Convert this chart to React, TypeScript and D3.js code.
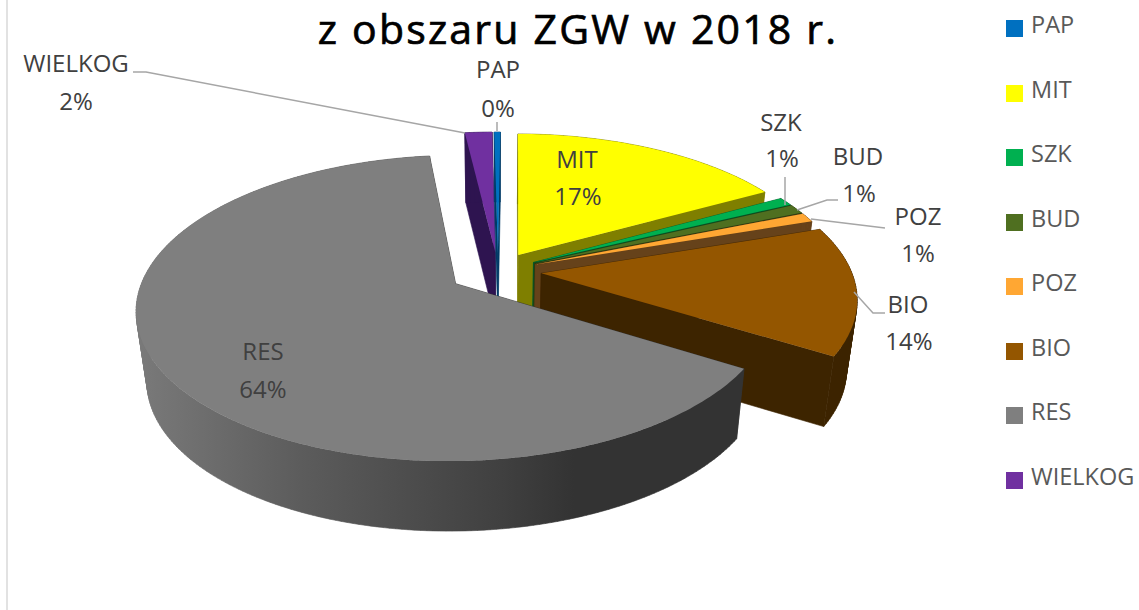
import React from "react";
import * as d3 from "d3";

const categories = ["PAP", "MIT", "SZK", "BUD", "POZ", "BIO", "RES", "WIELKOG"];
const shares = [0.37, 16.8, 0.9, 1.0, 1.0, 13.9, 64.3, 1.65];
const labels = ["0%", "17%", "1%", "1%", "1%", "14%", "64%", "2%"];
const topColors = ["#0070c0", "#ffff00", "#00b050", "#4f6f20", "#ffa733", "#945600", "#7f7f7f", "#7030a0"];
const wallColors = ["#003a66", "#7f7f00", "#005828", "#2a3b10", "#66421a", "#3d2400", "#333333", "#2e1450"];
const explode = [0.13, 0.13, 0.13, 0.13, 0.13, 0.14, 0.16, 0.13];
const drawOrder = [7, 0, 1, 2, 3, 4, 5, 6];
const legendY = [31, 96, 160, 225, 289, 354, 418, 483];

const W = 1139, H = 610;
const cx = 498, cy = 271, R = 310, K = 0.4677, P = 0.158, Depth = 70, Shrink = 0.97;

type Pt = { x: number; y: number; s: number };

function project(X: number, Y: number): Pt {
  const s = 1 / (1 - P * Y);
  return { x: cx + R * X * s, y: cy + R * K * Y * s, s };
}
function bottom(p: Pt): Pt {
  return { x: cx + (p.x - cx) * Shrink, y: p.y + Depth, s: p.s };
}

const startA = -0.014;
const pieGen = d3.pie<number>().sort(null).startAngle(startA).endAngle(startA + 2 * Math.PI);
const arcs = pieGen(shares);
const line = d3.line<{ x: number; y: number }>().x(d => d.x).y(d => d.y);

function geometry(i: number) {
  const a = arcs[i];
  const mid = (a.startAngle + a.endAngle) / 2;
  const ox = Math.sin(mid) * explode[i], oy = -Math.cos(mid) * explode[i];
  const n = Math.max(2, Math.ceil(((a.endAngle - a.startAngle) * 180) / Math.PI));
  const rim = d3.range(n + 1).map(k => {
    const t = a.startAngle + ((a.endAngle - a.startAngle) * k) / n;
    return project(ox + Math.sin(t), oy - Math.cos(t));
  });
  const apex = project(ox, oy);
  return { rim, apex };
}

// One path from all wall quads, each wound the same way so that overlaps at the fold stay filled.
function wallPath(rim: Pt[], b: Pt[]) {
  return rim
    .slice(1)
    .map((p, k) => {
      const quad = [rim[k], p, b[k + 1], b[k]];
      const area = d3.polygonArea(quad.map(q => [q.x, q.y] as [number, number]));
      return line(area < 0 ? quad.slice().reverse() : quad)! + "Z";
    })
    .join("");
}

const dataLabels = [
  { t: "PAP", x: 498, y: 78 }, { t: labels[0], x: 498, y: 117 },
  { t: "MIT", x: 577, y: 168 }, { t: labels[1], x: 578, y: 205 },
  { t: "SZK", x: 781, y: 131 }, { t: labels[2], x: 782, y: 167 },
  { t: "BUD", x: 858, y: 165 }, { t: labels[3], x: 859, y: 202 },
  { t: "POZ", x: 918, y: 225 }, { t: labels[4], x: 918, y: 262 },
  { t: "BIO", x: 908, y: 313 }, { t: labels[5], x: 909, y: 350 },
  { t: "RES", x: 263, y: 360 }, { t: labels[6], x: 263, y: 398 },
  { t: "WIELKOG", x: 76, y: 72 }, { t: labels[7], x: 76, y: 110 },
];

const App = () => (
  <svg width={W} height={H} style={{ position: "absolute", left: 0, top: 0, background: "#fff", fontFamily: "'Open Sans', sans-serif" }}>
    <defs>
      <linearGradient id="resWall" gradientUnits="userSpaceOnUse" x1={136} x2={745} y1={0} y2={0}>
        <stop offset="0" stopColor="#7a7a7a" />
        <stop offset="0.27" stopColor="#5c5c5c" />
        <stop offset="0.6" stopColor="#404040" />
        <stop offset="0.72" stopColor="#333333" />
        <stop offset="1" stopColor="#333333" />
      </linearGradient>
    </defs>
    <line x1={7} x2={7} y1={0} y2={H} stroke="#e2e2e2" strokeWidth={2} />
    {drawOrder.map(i => {
      const { rim, apex } = geometry(i);
      const b = rim.map(bottom);
      const ab = bottom(apex);
      const first = rim[0], last = rim[rim.length - 1];
      const wall = i === 6 ? "url(#resWall)" : wallColors[i];
      return (
        <g key={categories[i]}>
          <path d={line([first, apex, ab, b[0]])! + "Z"} fill={wallColors[i]} stroke={wallColors[i]} strokeWidth={0.6} />
          <path d={line([last, apex, ab, b[b.length - 1]])! + "Z"} fill={wallColors[i]} stroke={wallColors[i]} strokeWidth={0.6} />
          <path d={wallPath(rim, b)} fill={wall} stroke={wall} strokeWidth={0.6} />
          <path d={line([apex, ...rim])! + "Z"} fill={topColors[i]} />
        </g>
      );
    })}
    <text x={578} y={44} textAnchor="middle" fontSize={41} letterSpacing={2.2} fill="#000" stroke="#000" strokeWidth={0.7}>z obszaru ZGW w 2018 r.</text>
    {categories.map((c, i) => (
      <g key={c}>
        <rect x={1006} y={legendY[i] - 11} width={17} height={17} fill={topColors[i]} />
        <text x={1031} y={legendY[i] + 2} fontSize={23.5} fill="#595959">{c}</text>
      </g>
    ))}
    {dataLabels.map(d => (
      <text key={d.t + d.x} x={d.x} y={d.y} textAnchor="middle" fontSize={24} fill="#404040">{d.t}</text>
    ))}
    <g fill="none" stroke="#a6a6a6" strokeWidth={1.5}>
      <path d="M133,72 H146 L465,133" />
      <path d="M497,122 V131" />
      <path d="M785,177 V205" />
      <path d="M838,200 H827 L797,210" />
      <path d="M885,228 L811,219" />
      <path d="M885,313 H873 L854,292" />
    </g>
  </svg>
);

export default App;
